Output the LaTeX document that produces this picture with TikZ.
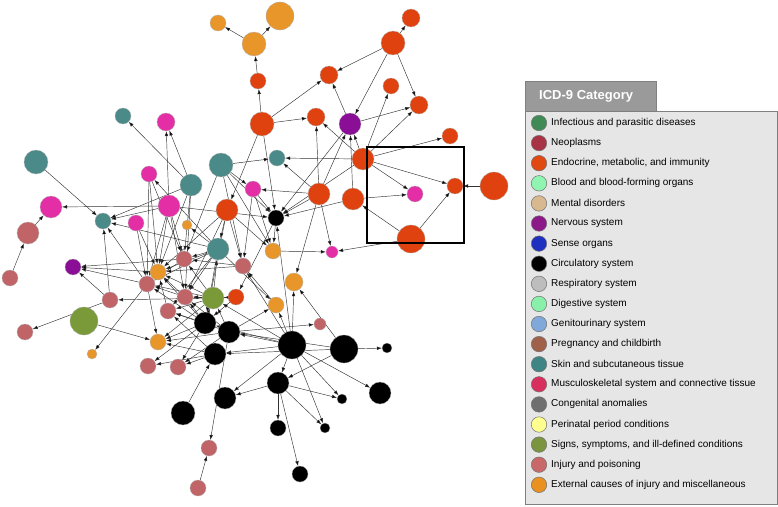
\documentclass[tikz,border=0pt]{standalone}
\usepackage{fontspec}
\setmainfont{Liberation Sans}
\usepackage{xcolor}
\usetikzlibrary{arrows.meta,positioning,backgrounds}

% legend colours
\definecolor{cInf}{HTML}{3F8A55}
\definecolor{cNeo}{HTML}{A83345}
\definecolor{cEnd}{HTML}{E04A12}
\definecolor{cBlo}{HTML}{90F5B0}
\definecolor{cMen}{HTML}{D8B88E}
\definecolor{cNer}{HTML}{8B1A88}
\definecolor{cSen}{HTML}{1F2FBF}
\definecolor{cCir}{HTML}{000000}
\definecolor{cRes}{HTML}{BDBDBD}
\definecolor{cDig}{HTML}{88F0A8}
\definecolor{cGen}{HTML}{80A8D8}
\definecolor{cPre}{HTML}{A0604A}
\definecolor{cSki}{HTML}{3F8585}
\definecolor{cMus}{HTML}{D8305E}
\definecolor{cCon}{HTML}{6F6F6F}
\definecolor{cPer}{HTML}{FFFF90}
\definecolor{cSig}{HTML}{7A9440}
\definecolor{cInj}{HTML}{C86868}
\definecolor{cExt}{HTML}{E89020}
% network colours
\definecolor{netExt}{HTML}{E8962A}
\definecolor{netEndo}{HTML}{E0420F}
\definecolor{netNerv}{HTML}{8A0F96}
\definecolor{netMusc}{HTML}{E32EA6}
\definecolor{netSkin}{HTML}{4A8A88}
\definecolor{netInj}{HTML}{C06468}
\definecolor{netSign}{HTML}{7A9A3A}
\definecolor{tabgrey}{HTML}{9A9A9A}
\definecolor{boxgrey}{HTML}{E6E6E6}

\begin{document}
\begin{tikzpicture}[x=1pt, y=-1pt,
  nd/.style={circle, inner sep=0pt, draw=black!30, line width=0.3pt},
  ext/.style={nd, fill=netExt},
  endo/.style={nd, fill=netEndo},
  nerv/.style={nd, fill=netNerv},
  musc/.style={nd, fill=netMusc},
  skin/.style={nd, fill=netSkin},
  inj/.style={nd, fill=netInj},
  sign/.style={nd, fill=netSign},
  circ/.style={nd, fill=black},
  r5/.style={minimum size=10pt},
  r6/.style={minimum size=12pt},
  r8/.style={minimum size=16pt},
  r9/.style={minimum size=18pt},
  r11/.style={minimum size=22pt},
  r12/.style={minimum size=24pt},
  r14/.style={minimum size=28pt},
  arr/.style={-{Latex[length=5pt, width=3.6pt]}, line width=0.45pt, draw=black!80},
  legdot/.style={circle, inner sep=0pt, minimum size=15.5pt, draw=black!55, line width=0.5pt},
  legtxt/.style={inner sep=0pt, font=\fontsize{10}{12}\selectfont}
]
  \useasboundingbox (0,0) rectangle (778,506);

  % external causes
  \node[ext, r8]  (e1)  at (218,23)  {};
  \node[ext, r14] (e2)  at (280,16)  {};
  \node[ext, r12] (e3)  at (254,44)  {};
  \node[ext, r5]  (e4)  at (187,225) {};
  \node[ext, r8]  (e5)  at (273,251) {};
  \node[ext, r8]  (e6)  at (158,272) {};
  \node[ext, r9]  (e7)  at (294,282) {};
  \node[ext, r8]  (e8)  at (276,305) {};
  \node[ext, r8]  (e9)  at (158,342) {};
  \node[ext, r5]  (e10) at (92,354)  {};

  % endocrine, metabolic, immunity
  \node[endo, r8]  (n1)  at (258,81)  {};
  \node[endo, r12] (n2)  at (262,124) {};
  \node[endo, r9]  (n3)  at (329,75)  {};
  \node[endo, r9]  (n4)  at (411,18)  {};
  \node[endo, r12] (n5)  at (393,43)  {};
  \node[endo, r8]  (n6)  at (391,86)  {};
  \node[endo, r9]  (n7)  at (419,105) {};
  \node[endo, r9]  (n8)  at (316,117) {};
  \node[endo, r8]  (n9)  at (450,136) {};
  \node[endo, r11] (n10) at (363,159) {};
  \node[endo, r11] (n11) at (319,194) {};
  \node[endo, r11] (n12) at (353,199) {};
  \node[endo, r8]  (n13) at (455,186) {};
  \node[endo, r14] (n14) at (494,186) {};
  \node[endo, r14] (n15) at (411,239) {};
  \node[endo, r11] (n16) at (227,210) {};
  \node[endo, r8]  (n17) at (236,297) {};

  % nervous system
  \node[nerv, r11] (v1) at (350,124) {};
  \node[nerv, r8]  (v2) at (73,267)  {};

  % musculoskeletal
  \node[musc, r9]  (m1) at (166,122) {};
  \node[musc, r8]  (m2) at (149,174) {};
  \node[musc, r8]  (m3) at (253,189) {};
  \node[musc, r11] (m4) at (169,206) {};
  \node[musc, r8]  (m5) at (136,223) {};
  \node[musc, r11] (m6) at (51,207)  {};
  \node[musc, r8]  (m7) at (415,194) {};
  \node[musc, r6]  (m8) at (332,252) {};

  % skin
  \node[skin, r8]  (t1) at (123,116) {};
  \node[skin, r12] (t2) at (36,162)  {};
  \node[skin, r12] (t3) at (221,165) {};
  \node[skin, r8]  (t4) at (277,158) {};
  \node[skin, r11] (t5) at (191,185) {};
  \node[skin, r8]  (t6) at (103,221) {};
  \node[skin, r11] (t7) at (218,249) {};

  % injury and poisoning
  \node[inj, r11] (j1)  at (28,233)  {};
  \node[inj, r8]  (j2)  at (10,278)  {};
  \node[inj, r8]  (j3)  at (184,259) {};
  \node[inj, r8]  (j4)  at (243,266) {};
  \node[inj, r8]  (j5)  at (147,284) {};
  \node[inj, r8]  (j6)  at (110,300) {};
  \node[inj, r8]  (j7)  at (185,297) {};
  \node[inj, r8]  (j8)  at (168,311) {};
  \node[inj, r8]  (j9)  at (25,332)  {};
  \node[inj, r8]  (j10) at (148,366) {};
  \node[inj, r8]  (j11) at (178,367) {};
  \node[inj, r6]  (j12) at (320,324) {};
  \node[inj, r8]  (j13) at (209,448) {};
  \node[inj, r8]  (j14) at (198,488) {};

  % signs and symptoms
  \node[sign, r11] (g1) at (213,298) {};
  \node[sign, r14] (g2) at (84,321)  {};

  % circulatory
  \node[circ, r8]  (b1)  at (276,218) {};
  \node[circ, r11] (b2)  at (205,323) {};
  \node[circ, r11] (b3)  at (229,332) {};
  \node[circ, r11] (b4)  at (215,354) {};
  \node[circ, r14] (b5)  at (292,345) {};
  \node[circ, r14] (b6)  at (344,349) {};
  \node[circ, r5]  (b7)  at (387,348) {};
  \node[circ, r11] (b8)  at (278,383) {};
  \node[circ, r11] (b9)  at (380,393) {};
  \node[circ, r5]  (b10) at (342,399) {};
  \node[circ, r11] (b11) at (225,398) {};
  \node[circ, r12] (b12) at (183,413) {};
  \node[circ, r5]  (b13) at (325,428) {};
  \node[circ, r8]  (b14) at (278,428) {};
  \node[circ, r8]  (b15) at (300,474) {};

  % zoom box
  \draw[line width=1.5pt] (367,147) rectangle (464,243);

  \begin{scope}[on background layer]
    \draw[arr] (e3) edge (e1) edge (e2);
    \draw[arr] (n1) edge (e3);
    \draw[arr] (n2) edge (n1) edge (n3) edge (n8) edge (n16) edge (b1);
    \draw[arr] (n5) edge (n4) edge (n3) edge (v1) edge (n7);
    \draw[arr] (v1) edge (n3) edge (n7) edge (b1);
    \draw[arr] (n10) edge (n6) edge (n7) edge (n9) edge (v1) edge (n8) edge (m7) edge (n13) edge (t4) edge (b1);
    \draw[arr] (n11) edge (n8) edge (v1) edge (m8) edge (e7) edge (m3) edge (t4) edge (b1);
    \draw[arr] (n12) edge (m7) edge (v1) edge (b1);
    \draw[arr] (n14) edge (n13);
    \draw[arr] (n15) edge (n13) edge (n12) edge (m8);
    \draw[arr] (j2) edge (j1);
    \draw[arr] (j1) edge (m6);
    \draw[arr] (m4) edge (m6) edge (m1) edge (t6) edge (b1) edge (j3) edge (j5) edge (e6) edge (j7);
    \draw[arr] (t5) edge (m1) edge (t1) edge (t6) edge (e6) edge (j3) edge (j7);
    \draw[arr] (t2) edge (t6);
    \draw[arr] (t3) edge (t4) edge (m3) edge (b1) edge (j3) edge (j4) edge (e5);
    \draw[arr] (m2) edge (e6) edge (j3) edge (j5);
    \draw[arr] (t7) edge (m2) edge (t6) edge (j3) edge (e6) edge (j5) edge (j7) edge (e4) edge (b2) edge (e8) edge (j8);
    \draw[arr] (m5) edge (e6) edge (j5);
    \draw[arr] (j6) edge (t6) edge (v2) edge (j9);
    \draw[arr] (j5) edge (t6) edge (v2) edge (e10) edge (e9);
    \draw[arr] (g1) edge (j6) edge (j3) edge (e6) edge (j5) edge (j7) edge (t7) edge (j8) edge (e9);
    \draw[arr] (g2) edge (e9);
    \draw[arr] (j3) edge (v2) edge (j5);
    \draw[arr] (e6) edge (v2);
    \draw[arr] (j7) edge (e6) edge (j5);
    \draw[arr] (j8) edge (e6);
    \draw[arr] (n16) edge (j4) edge (e6) edge (b2) edge (e5) edge (t7) edge (j7);
    \draw[arr] (m3) edge (b1) edge (j4) edge (e5);
    \draw[arr] (b1) edge (e5) edge (n17);
    \draw[arr] (e5) edge (m8);
    \draw[arr] (n17) edge (b2) edge (j7) edge (g1);
    \draw[arr] (j4) edge (e6) edge (j3);
    \draw[arr] (e8) edge (j4);
    \draw[arr] (b2) edge (j7) edge (j5) edge (e6) edge (j8) edge (e9) edge (j10) edge (j11) edge (g1);
    \draw[arr] (b3) edge (j12) edge (j13) edge (j7) edge (e9) edge (j8) edge (j11) edge (e8) edge (g1);
    \draw[arr] (b4) edge (j10) edge (j11) edge (e9) edge (j8);
    \draw[arr] (b5) edge (e7) edge (e8) edge (b1) edge (b3) edge (b4) edge (b2) edge (b8) edge (b9) edge (b10) edge (b13) edge (b11) edge (j4) edge (g1);
    \draw[arr] (b6) edge (e7) edge (b8) edge (b7) edge (b4) edge (b3);
    \draw[arr] (b8) edge (b10) edge (b13) edge (b14) edge (b15) edge (b11);
    \draw[arr] (b12) edge (b4);
    \draw[arr] (j14) edge (j13);
  \end{scope}

  % legend
  \draw[fill=boxgrey, draw=black!50] (525,111) rectangle (777,504);
  \draw[fill=tabgrey, draw=black!50] (525,81) rectangle (656,111);
  \node[anchor=west, inner sep=0pt, text=white, font=\bfseries\fontsize{13}{15}\selectfont] (ttl) at (539,96) {ICD-9 Category};

  \node[legdot, fill=cInf] (kInf) at (539,123.0) {};
  \node[legtxt, right=4pt of kInf] (lInf) {Infectious and parasitic diseases};
  \node[legdot, fill=cNeo] (kNeo) at (539,143.1) {};
  \node[legtxt, right=4pt of kNeo] (lNeo) {Neoplasms};
  \node[legdot, fill=cEnd] (kEnd) at (539,163.2) {};
  \node[legtxt, right=4pt of kEnd] (lEnd) {Endocrine, metabolic, and immunity};
  \node[legdot, fill=cBlo] (kBlo) at (539,183.3) {};
  \node[legtxt, right=4pt of kBlo] (lBlo) {Blood and blood-forming organs};
  \node[legdot, fill=cMen] (kMen) at (539,203.4) {};
  \node[legtxt, right=4pt of kMen] (lMen) {Mental disorders};
  \node[legdot, fill=cNer] (kNer) at (539,223.5) {};
  \node[legtxt, right=4pt of kNer] (lNer) {Nervous system};
  \node[legdot, fill=cSen] (kSen) at (539,243.6) {};
  \node[legtxt, right=4pt of kSen] (lSen) {Sense organs};
  \node[legdot, fill=cCir] (kCir) at (539,263.7) {};
  \node[legtxt, right=4pt of kCir] (lCir) {Circulatory system};
  \node[legdot, fill=cRes] (kRes) at (539,283.8) {};
  \node[legtxt, right=4pt of kRes] (lRes) {Respiratory system};
  \node[legdot, fill=cDig] (kDig) at (539,303.9) {};
  \node[legtxt, right=4pt of kDig] (lDig) {Digestive system};
  \node[legdot, fill=cGen] (kGen) at (539,324.0) {};
  \node[legtxt, right=4pt of kGen] (lGen) {Genitourinary system};
  \node[legdot, fill=cPre] (kPre) at (539,344.1) {};
  \node[legtxt, right=4pt of kPre] (lPre) {Pregnancy and childbirth};
  \node[legdot, fill=cSki] (kSki) at (539,364.2) {};
  \node[legtxt, right=4pt of kSki] (lSki) {Skin and subcutaneous tissue};
  \node[legdot, fill=cMus] (kMus) at (539,384.3) {};
  \node[legtxt, right=4pt of kMus] (lMus) {Musculoskeletal system and connective tissue};
  \node[legdot, fill=cCon] (kCon) at (539,404.4) {};
  \node[legtxt, right=4pt of kCon] (lCon) {Congenital anomalies};
  \node[legdot, fill=cPer] (kPer) at (539,424.5) {};
  \node[legtxt, right=4pt of kPer] (lPer) {Perinatal period conditions};
  \node[legdot, fill=cSig] (kSig) at (539,444.6) {};
  \node[legtxt, right=4pt of kSig] (lSig) {Signs, symptoms, and ill-defined conditions};
  \node[legdot, fill=cInj] (kInj) at (539,464.7) {};
  \node[legtxt, right=4pt of kInj] (lInj) {Injury and poisoning};
  \node[legdot, fill=cExt] (kExt) at (539,484.8) {};
  \node[legtxt, right=4pt of kExt] (lExt) {External causes of injury and miscellaneous};
\end{tikzpicture}
\end{document}
